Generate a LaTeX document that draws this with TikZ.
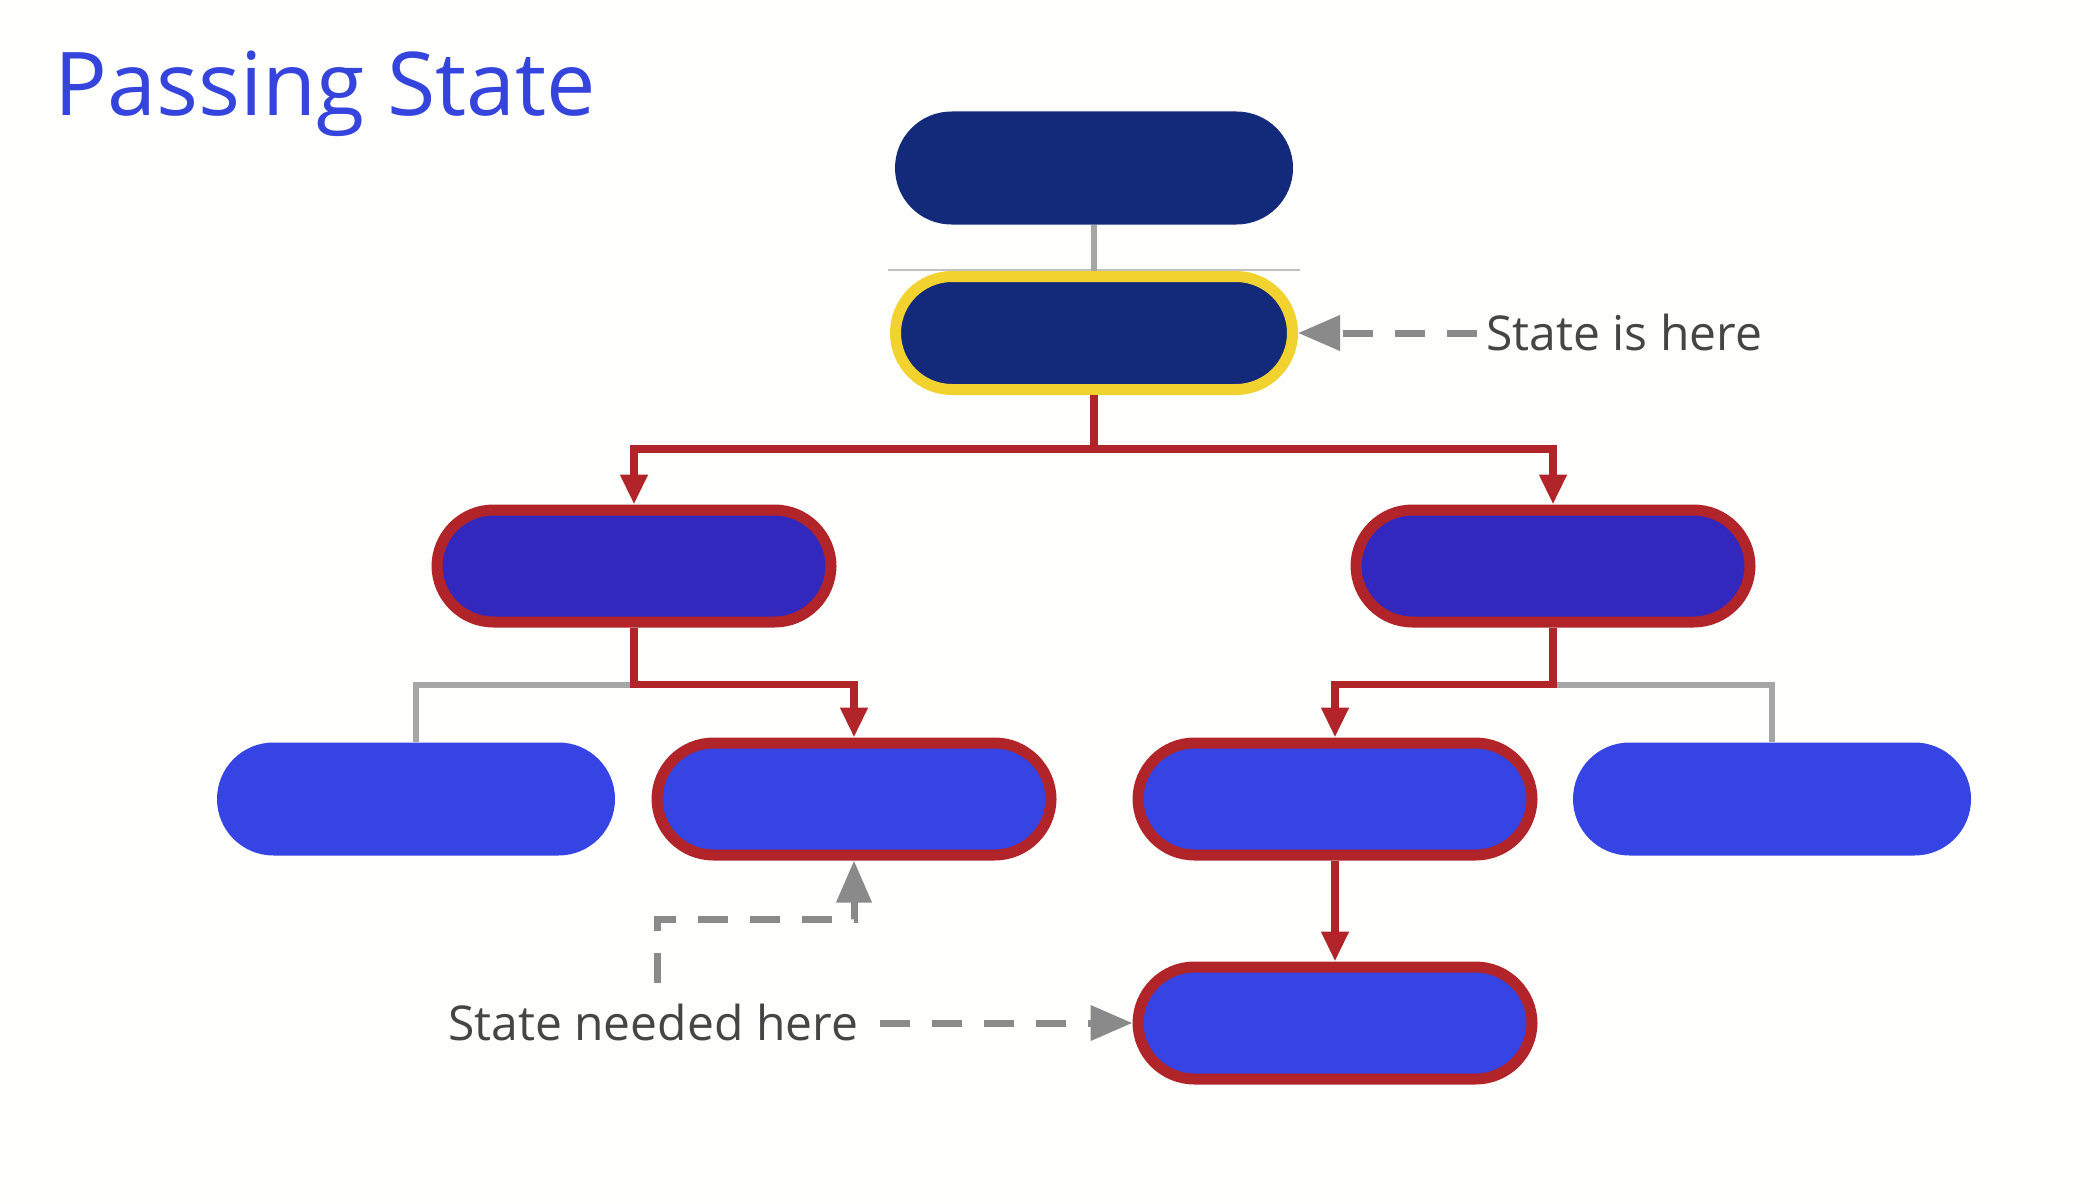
\documentclass[tikz,border=0pt]{standalone}
\usepackage{fontspec}
\setmainfont{Open Sans}
\usetikzlibrary{arrows.meta,calc}
\definecolor{bgc}{HTML}{FEFEFC}
\definecolor{navy}{HTML}{13297A}
\definecolor{midblue}{HTML}{3228BE}
\definecolor{lowblue}{HTML}{3544E3}
\definecolor{redb}{HTML}{B0242A}
\definecolor{yelb}{HTML}{F2D22E}
\definecolor{treegray}{HTML}{A6A6A6}
\definecolor{dashgray}{HTML}{8A8A8A}
\definecolor{txtgray}{HTML}{454545}
\definecolor{titleblue}{HTML}{3544DC}
\begin{document}
\begin{tikzpicture}[x=1pt,y=-1pt,
  pill/.style={rectangle, rounded corners=56.5pt, minimum width=398pt, minimum height=113pt, inner sep=0pt},
  topnode/.style={pill, fill=navy},
  statenode/.style={pill, fill=navy, draw=yelb, line width=11pt, minimum width=397pt},
  midnode/.style={pill, fill=midblue, draw=redb, line width=11pt, minimum width=394pt, minimum height=112pt},
  lownode/.style={pill, fill=lowblue},
  pathnode/.style={pill, fill=lowblue, draw=redb, line width=11pt, minimum width=394pt, minimum height=112pt},
  redc/.style={draw=redb, line width=7.5pt, -{Triangle[length=30pt,width=26pt]}},
  grayc/.style={draw=treegray, line width=6pt},
  dasharrow/.style={draw=dashgray, line width=7pt, dash pattern=on 30pt off 22pt, -{Triangle[length=42pt,width=34pt]}},
  lbl/.style={text=txtgray, font=\fontsize{48}{56}\selectfont, inner sep=0pt}
]
\fill[bgc] (0,0) rectangle (2090,1204);
\useasboundingbox (0,0) rectangle (2090,1204);

\node[text=titleblue, font=\fontsize{88}{100}\selectfont, inner sep=0pt, anchor=base west] (title) at (54,116) {Passing State};

% nodes
\node[topnode] (A) at (1094,168) {};
\node[statenode] (B) at (1094,333) {};
\node[midnode] (C) at (634,566) {};
\node[midnode] (D) at (1553,566) {};
\node[lownode] (F) at (416,799) {};
\node[pathnode] (E) at (854,799) {};
\node[pathnode] (G) at (1335,799) {};
\node[lownode] (H) at (1772,799) {};
\node[pathnode] (I) at (1335,1023) {};

% thin separator line
\draw[draw=treegray!70, line width=1.5pt] (888,270) -- (1300,270);

% gray tree connectors
\draw[grayc] (A.south) -- (B.north);
\draw[grayc] (C.south) ++(0,57) -| (F.north);
\draw[grayc] (D.south) ++(0,57) -| (H.north);

% red connectors
\draw[redc] (B.south) -- ++(0,54) -| (C.north);
\draw[redc] (B.south) -- ++(0,54) -| (D.north);
\draw[redc] (C.south) -- ++(0,57) -| (E.north);
\draw[redc] (D.south) -- ++(0,57) -| (G.north);
\draw[redc] (G.south) -- (I.north);

% labels
\node[lbl, anchor=base west] (here) at (1486,350) {State is here};
\node[lbl, anchor=base west] (need) at (448,1040) {State needed here};

\coordinate (h1) at (1477,333);
\coordinate (n1) at (880,1023);
\coordinate (n2) at (657,983);

\draw[dasharrow] (h1) -- (B.east);
\draw[dasharrow] (n1) -- (I.west);
\draw[dasharrow] (n2) |- ($(E.south)+(0,59)$) -- (E.south);
\end{tikzpicture}
\end{document}
